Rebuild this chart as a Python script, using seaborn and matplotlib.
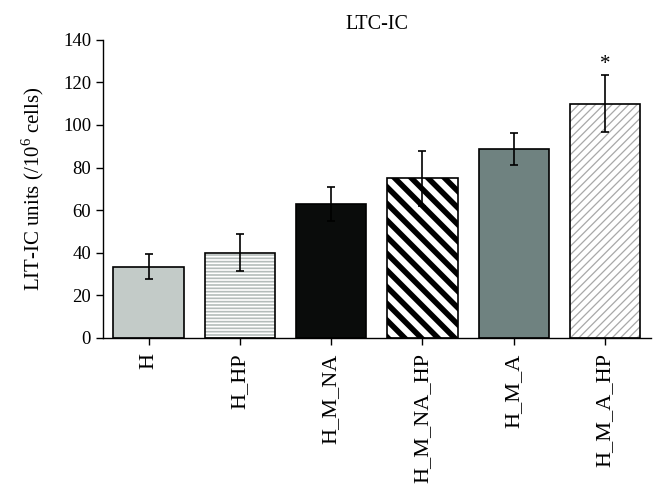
import numpy as np
import pandas as pd
import seaborn as sns
import matplotlib
matplotlib.use("Agg")
import matplotlib.pyplot as plt
from matplotlib.patches import Rectangle

# LTC-IC data
groups = ["H", "H_HP", "H_M_NA", "H_M_NA_HP", "H_M_A", "H_M_A_HP"]
means = [33.5, 40, 63, 75, 88.5, 110]
errs = [6, 8.7, 8, 13, 7.5, 13.5]
colors = ["#c3cbc8", "#ffffff", "#0a0c0b", "#ffffff", "#6f8280", "#ffffff"]
hatches = [None, "-----", None, "\\\\", None, "////"]
hatch_colors = [None, "#b4bcba", None, "#000000", None, "#a8a8a8"]
hatch_widths = [None, 1.2, None, 4.0, None, 0.9]
stars = ["", "", "", "", "", "*"]

sns.set_style("white")
plt.rcParams["font.family"] = ["Liberation Serif", "DejaVu Serif"]
plt.rcParams["mathtext.fontset"] = "custom"
plt.rcParams["mathtext.rm"] = "Liberation Serif"
plt.rcParams["text.color"] = "black"
plt.rcParams["axes.labelcolor"] = "black"
plt.rcParams["xtick.color"] = "black"
plt.rcParams["ytick.color"] = "black"

df = pd.DataFrame({"group": groups, "mean": means})

fig = plt.figure(figsize=(6.64, 4.97), dpi=100)
ax = fig.add_axes([0.155, 0.32, 0.825, 0.6])

sns.barplot(data=df, x="group", y="mean", hue="group", palette=colors,
            legend=False, width=0.77, saturation=1, ax=ax,
            edgecolor="black", linewidth=1.2)

for p, h, hc, hw in zip(ax.patches, hatches, hatch_colors, hatch_widths):
    if h is None:
        continue
    p.set_hatch(h)
    p.set_edgecolor(hc)
    p.set_linewidth(0)
    if hasattr(p, "set_hatch_linewidth"):
        p.set_hatch_linewidth(hw)
    ax.add_patch(Rectangle(p.get_xy(), p.get_width(), p.get_height(),
                           fill=False, edgecolor="black", linewidth=1.2))

x = np.arange(len(groups))
ax.errorbar(x, means, yerr=errs, fmt="none", ecolor="black",
            elinewidth=1.2, capsize=3, capthick=1.2)

for i, s in enumerate(stars):
    if s:
        ax.text(x[i], means[i] + errs[i] + 0.5, s, ha="center", va="bottom",
                fontsize=15)

ax.set_ylim(0, 140)
ax.set_yticks(range(0, 141, 20))
ax.set_xlim(-0.5, len(groups) - 0.5)
ax.set_xlabel("")
ax.set_ylabel("LIT-IC units (/10$^{6}$ cells)", fontsize=15, labelpad=12)
ax.set_title("LTC-IC", fontsize=14.5, pad=8)
ax.tick_params(axis="x", rotation=90, labelsize=16, length=5, width=1,
               direction="out", bottom=True, pad=6)
ax.tick_params(axis="y", labelsize=13.5, length=5, width=1,
               direction="out", left=True)
sns.despine(ax=ax)
for s in ["left", "bottom"]:
    ax.spines[s].set_color("black")
    ax.spines[s].set_linewidth(1)

fig.savefig("out.png", dpi=100)
